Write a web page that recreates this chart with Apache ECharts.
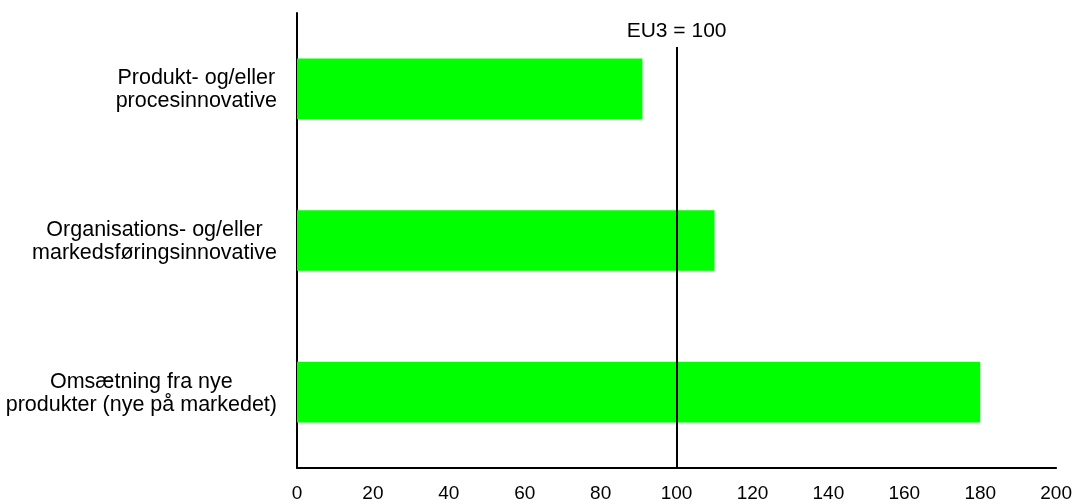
<!DOCTYPE html>
<html><head><meta charset="utf-8">
<script src="https://cdn.jsdelivr.net/npm/echarts@6/dist/echarts.min.js"></script>
<style>html,body{margin:0;padding:0;background:#fff}#c{width:1075px;height:504px}</style>
</head><body><div id="c"></div>
<script>
// ---- data ----
const categories = [
  'Produkt- og/eller\nprocesinnovative',
  'Organisations- og/eller\nmarkedsføringsinnovative',
  'Omsætning fra nye\nprodukter (nye på markedet)'
];
const values = [91, 110, 180];
const referenceValue = 100;
const referenceLabel = 'EU3 = 100';
const xMin = 0, xMax = 200, xStep = 20;

// ---- layout ----
const W = 1075, H = 504;
const GRID = {left: 297, right: 18, top: 13, bottom: 36};
const FONT = '"Liberation Sans", Arial, sans-serif';

const chart = echarts.init(document.getElementById('c'), null, {renderer: 'canvas', width: W, height: H});
chart.setOption({
  animation: false,
  backgroundColor: '#ffffff',
  grid: {left: GRID.left, right: GRID.right, top: GRID.top, bottom: GRID.bottom},
  xAxis: {
    type: 'value', min: xMin, max: xMax, interval: xStep,
    axisLine: {show: true, lineStyle: {color: '#000', width: 2}},
    axisTick: {show: false},
    splitLine: {show: false},
    axisLabel: {color: '#000', fontSize: 19, fontFamily: FONT, margin: 16}
  },
  yAxis: {
    type: 'category', inverse: true, data: categories,
    axisLine: {show: true, lineStyle: {color: '#000', width: 2}},
    axisTick: {show: false},
    axisLabel: {
      margin: 20, align: 'right',
      formatter: v => v.split('\n').map(s => '{c|' + s + '}').join('\n'),
      rich: {c: {align: 'center', fontSize: 21.5, lineHeight: 23, color: '#000', fontFamily: FONT, padding: [2, 0, 0, 0]}}
    }
  },
  series: [{
    type: 'bar', data: values, barWidth: '40%',
    itemStyle: {color: '#00ff00'},
    markLine: {
      silent: true, symbol: 'none', animation: false,
      lineStyle: {color: '#000', width: 2, type: 'solid'},
      label: {show: true, position: 'start', formatter: referenceLabel, color: '#000', fontSize: 21, fontFamily: FONT, distance: 5},
      data: [[{xAxis: referenceValue, y: GRID.top + 34}, {xAxis: referenceValue, y: H - GRID.bottom}]]
    }
  }]
});
</script></body></html>
